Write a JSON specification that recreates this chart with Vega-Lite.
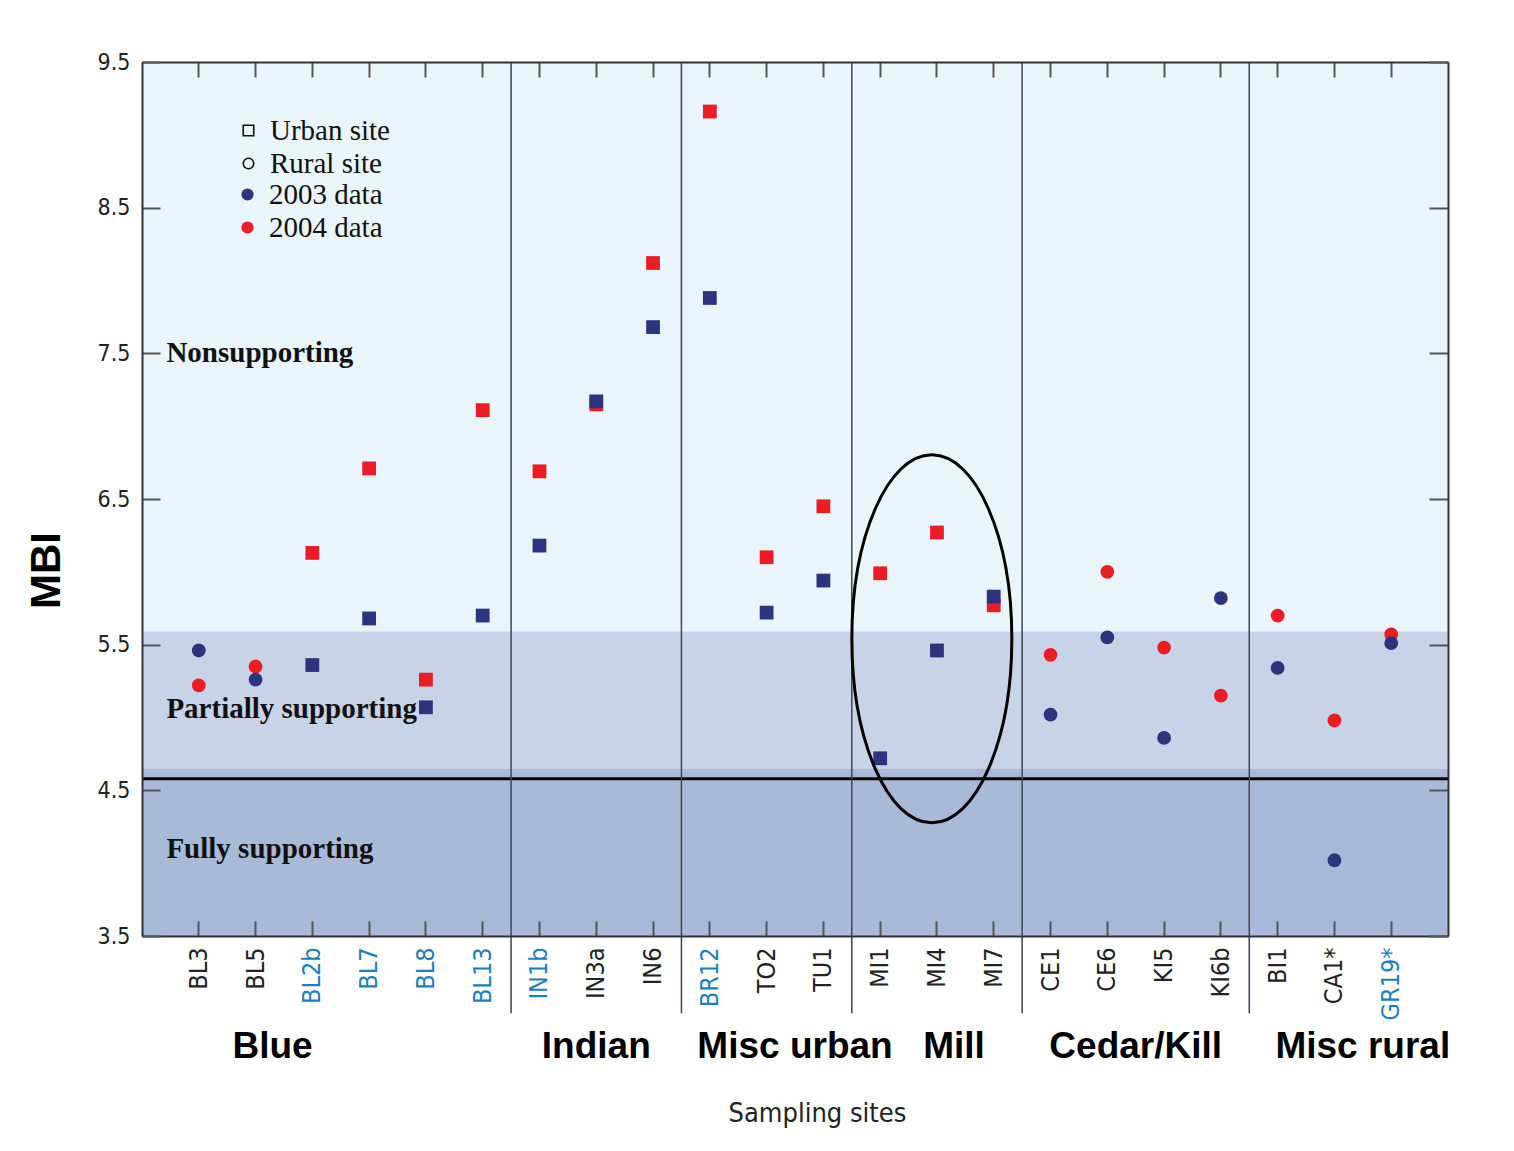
{
  "$schema": "https://vega.github.io/schema/vega-lite/v6.json",
  "width": 1306,
  "height": 874,
  "autosize": {"type": "none"},
  "padding": {"left": 142, "top": 62, "right": 66, "bottom": 215},
  "background": "white",
  "config": {
    "view": {"stroke": null},
    "axis": {"grid": false, "domainColor": "#333333", "domainWidth": 2, "tickColor": "#555555", "tickWidth": 2, "labelOverlap": false}
  },
  "datasets": {
    "mbi": [
      {"site": "BL3", "group": "Blue", "setting": "Rural", "year": "2004", "mbi": 5.22},
      {"site": "BL3", "group": "Blue", "setting": "Rural", "year": "2003", "mbi": 5.46},
      {"site": "BL5", "group": "Blue", "setting": "Rural", "year": "2004", "mbi": 5.35},
      {"site": "BL5", "group": "Blue", "setting": "Rural", "year": "2003", "mbi": 5.26},
      {"site": "BL2b", "group": "Blue", "setting": "Urban", "year": "2004", "mbi": 6.13},
      {"site": "BL2b", "group": "Blue", "setting": "Urban", "year": "2003", "mbi": 5.36},
      {"site": "BL7", "group": "Blue", "setting": "Urban", "year": "2004", "mbi": 6.71},
      {"site": "BL7", "group": "Blue", "setting": "Urban", "year": "2003", "mbi": 5.68},
      {"site": "BL8", "group": "Blue", "setting": "Urban", "year": "2004", "mbi": 5.26},
      {"site": "BL8", "group": "Blue", "setting": "Urban", "year": "2003", "mbi": 5.07},
      {"site": "BL13", "group": "Blue", "setting": "Urban", "year": "2004", "mbi": 7.11},
      {"site": "BL13", "group": "Blue", "setting": "Urban", "year": "2003", "mbi": 5.70},
      {"site": "IN1b", "group": "Indian", "setting": "Urban", "year": "2004", "mbi": 6.69},
      {"site": "IN1b", "group": "Indian", "setting": "Urban", "year": "2003", "mbi": 6.18},
      {"site": "IN3a", "group": "Indian", "setting": "Urban", "year": "2004", "mbi": 7.15},
      {"site": "IN3a", "group": "Indian", "setting": "Urban", "year": "2003", "mbi": 7.17},
      {"site": "IN6", "group": "Indian", "setting": "Urban", "year": "2004", "mbi": 8.12},
      {"site": "IN6", "group": "Indian", "setting": "Urban", "year": "2003", "mbi": 7.68},
      {"site": "BR12", "group": "Misc urban", "setting": "Urban", "year": "2004", "mbi": 9.16},
      {"site": "BR12", "group": "Misc urban", "setting": "Urban", "year": "2003", "mbi": 7.88},
      {"site": "TO2", "group": "Misc urban", "setting": "Urban", "year": "2004", "mbi": 6.10},
      {"site": "TO2", "group": "Misc urban", "setting": "Urban", "year": "2003", "mbi": 5.72},
      {"site": "TU1", "group": "Misc urban", "setting": "Urban", "year": "2004", "mbi": 6.45},
      {"site": "TU1", "group": "Misc urban", "setting": "Urban", "year": "2003", "mbi": 5.94},
      {"site": "MI1", "group": "Mill", "setting": "Urban", "year": "2004", "mbi": 5.99},
      {"site": "MI1", "group": "Mill", "setting": "Urban", "year": "2003", "mbi": 4.72},
      {"site": "MI4", "group": "Mill", "setting": "Urban", "year": "2004", "mbi": 6.27},
      {"site": "MI4", "group": "Mill", "setting": "Urban", "year": "2003", "mbi": 5.46},
      {"site": "MI7", "group": "Mill", "setting": "Urban", "year": "2004", "mbi": 5.77},
      {"site": "MI7", "group": "Mill", "setting": "Urban", "year": "2003", "mbi": 5.83},
      {"site": "CE1", "group": "Cedar/Kill", "setting": "Rural", "year": "2004", "mbi": 5.43},
      {"site": "CE1", "group": "Cedar/Kill", "setting": "Rural", "year": "2003", "mbi": 5.02},
      {"site": "CE6", "group": "Cedar/Kill", "setting": "Rural", "year": "2004", "mbi": 6.00},
      {"site": "CE6", "group": "Cedar/Kill", "setting": "Rural", "year": "2003", "mbi": 5.55},
      {"site": "KI5", "group": "Cedar/Kill", "setting": "Rural", "year": "2004", "mbi": 5.48},
      {"site": "KI5", "group": "Cedar/Kill", "setting": "Rural", "year": "2003", "mbi": 4.86},
      {"site": "KI6b", "group": "Cedar/Kill", "setting": "Rural", "year": "2004", "mbi": 5.15},
      {"site": "KI6b", "group": "Cedar/Kill", "setting": "Rural", "year": "2003", "mbi": 5.82},
      {"site": "BI1", "group": "Misc rural", "setting": "Rural", "year": "2004", "mbi": 5.70},
      {"site": "BI1", "group": "Misc rural", "setting": "Rural", "year": "2003", "mbi": 5.34},
      {"site": "CA1*", "group": "Misc rural", "setting": "Rural", "year": "2004", "mbi": 4.98},
      {"site": "CA1*", "group": "Misc rural", "setting": "Rural", "year": "2003", "mbi": 4.02},
      {"site": "GR19*", "group": "Misc rural", "setting": "Rural", "year": "2004", "mbi": 5.57},
      {"site": "GR19*", "group": "Misc rural", "setting": "Rural", "year": "2003", "mbi": 5.51}
    ],
    "zones": [
      {"zone": "Nonsupporting", "lo": 5.59, "hi": 9.5, "label_site": "BL3", "label_mbi": 7.5},
      {"zone": "Partially supporting", "lo": 4.65, "hi": 5.59, "label_site": "BL3", "label_mbi": 5.06},
      {"zone": "Fully supporting", "lo": 3.5, "hi": 4.65, "label_site": "BL3", "label_mbi": 4.1}
    ]
  },
  "resolve": {"axis": {"x": "independent", "y": "independent"}},
  "layer": [
    {
      "data": {"name": "zones"},
      "mark": {"type": "rect"},
      "encoding": {
        "y": {"field": "lo", "type": "quantitative", "scale": {"domain": [3.5, 9.5], "nice": false, "zero": false}, "axis": null},
        "y2": {"field": "hi"},
        "fill": {
          "field": "zone", "type": "nominal", "legend": null,
          "scale": {"domain": ["Nonsupporting", "Partially supporting", "Fully supporting"], "range": ["#e9f4fb", "#c7d3e7", "#a9bad8"]}
        }
      }
    },
    {
      "data": {"values": [{"limit": 4.58}]},
      "mark": {"type": "rule", "color": "#000000", "strokeWidth": 3},
      "encoding": {
        "y": {"field": "limit", "type": "quantitative", "axis": null}
      }
    },
    {
      "data": {"values": [
        {"after": "BL13", "top": 9.5, "bottom": 2.97},
        {"after": "IN6", "top": 9.5, "bottom": 2.97},
        {"after": "TU1", "top": 9.5, "bottom": 2.97},
        {"after": "MI7", "top": 9.5, "bottom": 2.97},
        {"after": "KI6b", "top": 9.5, "bottom": 2.97}
      ]},
      "mark": {"type": "rule", "color": "#3d4654", "strokeWidth": 1.5},
      "encoding": {
        "x": {
          "field": "after", "type": "nominal", "bandPosition": 1,
          "axis": {"orient": "top", "labels": false, "title": null, "tickSize": -15, "domain": true, "zindex": 1}
        },
        "y": {"field": "top", "type": "quantitative", "axis": null},
        "y2": {"field": "bottom"}
      }
    },
    {
      "data": {"name": "zones"},
      "mark": {"type": "text", "align": "left", "baseline": "middle", "dx": -4, "font": "Liberation Serif", "fontWeight": "bold", "fontSize": 29, "color": "#111111"},
      "encoding": {
        "x": {"field": "label_site", "type": "nominal", "bandPosition": 0, "axis": null},
        "y": {"field": "label_mbi", "type": "quantitative", "axis": null},
        "text": {"field": "zone"}
      }
    },
    {
      "data": {"name": "mbi"},
      "mark": {"type": "point", "filled": true, "size": 190, "opacity": 1},
      "encoding": {
        "x": {
          "field": "site", "type": "nominal",
          "scale": {
            "type": "band", "paddingInner": 0, "paddingOuter": 0.5,
            "domain": ["BL3", "BL5", "BL2b", "BL7", "BL8", "BL13", "IN1b", "IN3a", "IN6", "BR12", "TO2", "TU1", "MI1", "MI4", "MI7", "CE1", "CE6", "KI5", "KI6b", "BI1", "CA1*", "GR19*"]
          },
          "axis": {
            "orient": "bottom", "title": "Sampling sites", "labelAngle": 270, "zindex": 1,
            "tickSize": -15, "labelPadding": 26,
            "labelFont": "'DejaVu Sans Condensed', 'Roboto Condensed', 'Liberation Sans Narrow', 'Liberation Sans', sans-serif", "labelFontSize": 25,
            "labelColor": {
              "condition": {"test": "indexof(['BL2b','BL7','BL8','BL13','IN1b','BR12','GR19*'], datum.value) >= 0", "value": "#1c7fbd"},
              "value": "#222222"
            },
            "titleFont": "'DejaVu Sans Condensed', 'Roboto Condensed', 'Liberation Sans Narrow', 'Liberation Sans', sans-serif", "titleFontSize": 27, "titleFontWeight": "normal", "titleColor": "#222222",
            "titleX": 675, "titleY": 177, "titleBaseline": "middle", "titleAlign": "center"
          }
        },
        "y": {
          "field": "mbi", "type": "quantitative",
          "axis": {
            "orient": "left", "title": "MBI", "values": [3.5, 4.5, 5.5, 6.5, 7.5, 8.5, 9.5], "format": ".1f", "zindex": 1,
            "tickSize": -18, "labelPadding": 30,
            "labelFont": "'DejaVu Sans Condensed', 'Roboto Condensed', 'Liberation Sans Narrow', 'Liberation Sans', sans-serif", "labelFontSize": 23, "labelColor": "#222222",
            "titleFont": "Liberation Sans", "titleFontSize": 42, "titleFontWeight": "bold", "titleColor": "#000000",
            "titleAngle": 270, "titleX": -96, "titleY": 508, "titleBaseline": "middle", "titleAlign": "center"
          }
        },
        "shape": {
          "field": "setting", "type": "nominal",
          "scale": {"domain": ["Urban", "Rural"], "range": ["square", "circle"]},
          "legend": {
            "title": null, "orient": "none", "legendX": 92, "legendY": 54,
            "labelExpr": "datum.label + ' site'",
            "labelFont": "Liberation Serif", "labelFontSize": 29, "labelColor": "#111111",
            "symbolSize": 110, "rowPadding": 3, "labelOffset": 7,
            "symbolFillColor": "transparent", "symbolStrokeColor": "#111111", "symbolStrokeWidth": 1.6
          }
        },
        "color": {
          "field": "year", "type": "nominal",
          "scale": {"domain": ["2003", "2004"], "range": ["#2c3480", "#ec1c24"]},
          "legend": {
            "title": null, "orient": "none", "legendX": 91, "legendY": 118,
            "labelExpr": "datum.label + ' data'",
            "labelFont": "Liberation Serif", "labelFontSize": 29, "labelColor": "#111111",
            "symbolType": "circle", "symbolSize": 150, "rowPadding": 3, "labelOffset": 7
          }
        }
      }
    },
    {
      "data": {"values": [{"circled": "MI4", "center": 5.54}]},
      "mark": {
        "type": "point", "filled": false, "stroke": "#000000", "strokeWidth": 3, "opacity": 1, "size": 25600,
        "shape": "M 0 -2.3 C 0.5523 -2.3 1 -1.2703 1 0 C 1 1.2703 0.5523 2.3 0 2.3 C -0.5523 2.3 -1 1.2703 -1 0 C -1 -1.2703 -0.5523 -2.3 0 -2.3 Z"
      },
      "encoding": {
        "x": {"field": "circled", "type": "nominal", "bandPosition": 0.41, "axis": null},
        "y": {
          "field": "center", "type": "quantitative",
          "axis": {"orient": "right", "labels": false, "title": null, "tickSize": -19, "zindex": 1, "values": [3.5, 4.5, 5.5, 6.5, 7.5, 8.5, 9.5]}
        }
      }
    },
    {
      "data": {"values": [
        {"group": "Misc urban", "site": "TU1", "level": 2.74},
        {"group": "Cedar/Kill", "site": "KI5", "level": 2.74},
        {"group": "Misc rural", "site": "GR19*", "level": 2.74}
      ]},
      "mark": {"type": "text", "align": "center", "baseline": "middle", "font": "Liberation Sans", "fontWeight": "bold", "fontSize": 37, "color": "#000000"},
      "encoding": {
        "x": {"field": "site", "type": "nominal", "bandPosition": 0, "axis": null},
        "y": {"field": "level", "type": "quantitative", "axis": null},
        "text": {"field": "group"}
      }
    },
    {
      "data": {"values": [
        {"group": "Indian", "site": "IN3a", "level": 2.74}
      ]},
      "mark": {"type": "text", "align": "center", "baseline": "middle", "font": "Liberation Sans", "fontWeight": "bold", "fontSize": 37, "color": "#000000"},
      "encoding": {
        "x": {"field": "site", "type": "nominal", "bandPosition": 0.5, "axis": null},
        "y": {"field": "level", "type": "quantitative", "axis": null},
        "text": {"field": "group"}
      }
    },
    {
      "data": {"values": [
        {"group": "Blue", "site": "BL5", "level": 2.74},
        {"group": "Mill", "site": "MI4", "level": 2.74}
      ]},
      "mark": {"type": "text", "align": "center", "baseline": "middle", "font": "Liberation Sans", "fontWeight": "bold", "fontSize": 37, "color": "#000000"},
      "encoding": {
        "x": {"field": "site", "type": "nominal", "bandPosition": 0.8, "axis": null},
        "y": {"field": "level", "type": "quantitative", "axis": null},
        "text": {"field": "group"}
      }
    }
  ]
}
